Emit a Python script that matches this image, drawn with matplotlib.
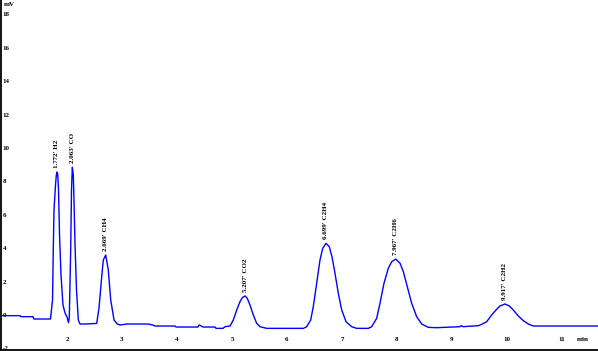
import numpy as np
import matplotlib.pyplot as plt

# Trace (time in min, signal in mV)
trace_t = [0.800, 1.146, 1.160, 1.380, 1.400, 1.700,
           1.737, 1.751, 1.764, 1.791, 1.806, 1.818, 1.831, 1.846, 1.864, 1.891, 1.927, 1.964, 2.000, 2.027,
           2.042, 2.067, 2.082, 2.097, 2.115, 2.127, 2.146, 2.173, 2.206, 2.237,
           2.327, 2.509, 2.540, 2.582, 2.631, 2.660, 2.704, 2.751, 2.795, 2.855, 2.915,
           2.964, 3.091, 3.473, 3.564, 3.600, 3.964, 3.982, 4.382, 4.400, 4.420, 4.473, 4.691, 4.709, 4.836, 4.873, 4.964,
           5.024, 5.086, 5.146, 5.188, 5.237, 5.278, 5.327, 5.388, 5.449, 5.509, 5.631,
           6.300, 6.358, 6.431, 6.478, 6.540, 6.600, 6.649, 6.709, 6.769, 6.818, 6.873, 6.933, 6.995, 7.073, 7.176, 7.267,
           7.480, 7.540, 7.631, 7.691, 7.764, 7.842, 7.904, 7.977, 8.055, 8.115, 8.187, 8.267, 8.358, 8.449, 8.569, 8.722,
           9.146, 9.170, 9.200, 9.480, 9.540, 9.631, 9.722, 9.800, 9.873, 9.964, 10.042, 10.115, 10.206, 10.297, 10.388, 10.479, 11.660]
trace_v = [-0.04, -0.04, -0.10, -0.10, -0.24, -0.24,
           0.90, 4.01, 6.29, 7.78, 8.38, 8.56, 8.44, 7.49, 4.79, 2.40, 0.60, 0.12, -0.12, -0.46,
           -0.12, 3.89, 7.49, 8.84, 8.38, 6.89, 4.19, 1.50, -0.30, -0.54,
           -0.54, -0.51, -0.50, 0.42, 2.29, 3.29, 3.59, 2.69, 0.90, -0.30, -0.54,
           -0.60, -0.54, -0.54, -0.60, -0.66, -0.66, -0.72, -0.72, -0.60, -0.62, -0.72, -0.72, -0.80, -0.80, -0.70, -0.66,
           -0.30, 0.30, 0.80, 1.04, 1.14, 1.00, 0.60, 0.00, -0.50, -0.70, -0.80,
           -0.80, -0.70, -0.30, 0.50, 1.90, 3.29, 3.99, 4.29, 4.09, 3.49, 2.50, 1.30, 0.30, -0.40, -0.70, -0.80,
           -0.80, -0.70, -0.20, 0.70, 1.90, 2.80, 3.19, 3.35, 3.10, 2.60, 1.70, 0.70, -0.10, -0.54, -0.74, -0.76,
           -0.70, -0.64, -0.70, -0.64, -0.56, -0.40, 0.00, 0.30, 0.54, 0.66, 0.54, 0.30, -0.06, -0.34, -0.54, -0.66, -0.66]

# Peak labels
peak_apex = [1.818, 2.097, 2.704, 5.237, 6.709, 7.977, 9.964]
peak_rt = ["1.772'", "2.063'", "2.669'", "5.207'", "6.699'", "7.967'", "9.917'"]
peak_name = ["H2", "CO", "CH4", "CO2", "C2H4", "C2H6", "C2H2"]

x_ticks = [2, 3, 4, 5, 6, 7, 8, 9, 10, 11]
y_ticks = [-2, 0, 2, 4, 6, 8, 10, 12, 14, 16, 18]

fig = plt.figure(figsize=(5.98, 3.51), dpi=100)
ax = fig.add_axes([1 / 598, 1.5 / 351, 597 / 598, 349.5 / 351])

ax.plot(trace_t, trace_v, color="#0000ff", linewidth=1.0)

for t, rt, name in zip(peak_apex, peak_rt, peak_name):
    v = np.interp(t, trace_t, trace_v)
    ax.annotate(rt + " " + name, (t, v), xytext=(0, 3), textcoords="offset points",
                rotation=90, ha="center", va="bottom", fontsize=5,
                family="Liberation Serif", fontweight="bold")

ax.set_xlim(0.800, 11.655)
ax.set_ylim(-2.066, 18.86)

ax.set_xticks(x_ticks)
ax.set_xticklabels([str(v) for v in x_ticks], family="Liberation Serif", fontweight="bold", fontsize=5)
ax.set_yticks(y_ticks)
ax.set_yticklabels([str(v) for v in y_ticks], family="Liberation Serif", fontweight="bold", fontsize=5, ha="left")
ax.tick_params(axis="x", length=0, pad=-9)
ax.tick_params(axis="y", length=0, pad=-1)

for s in ["top", "right"]:
    ax.spines[s].set_visible(False)
ax.spines["left"].set_linewidth(1.3)
ax.spines["bottom"].set_linewidth(1.3)

ax.text(0.004, 0.995, "mV", transform=ax.transAxes, ha="left", va="top",
        fontsize=5, family="Liberation Serif", fontweight="bold")
ax.text(0.975, 0.028, "min", transform=ax.transAxes, ha="center", va="center",
        fontsize=5, family="Liberation Serif", fontweight="bold")

fig.savefig("out.png", dpi=100)
